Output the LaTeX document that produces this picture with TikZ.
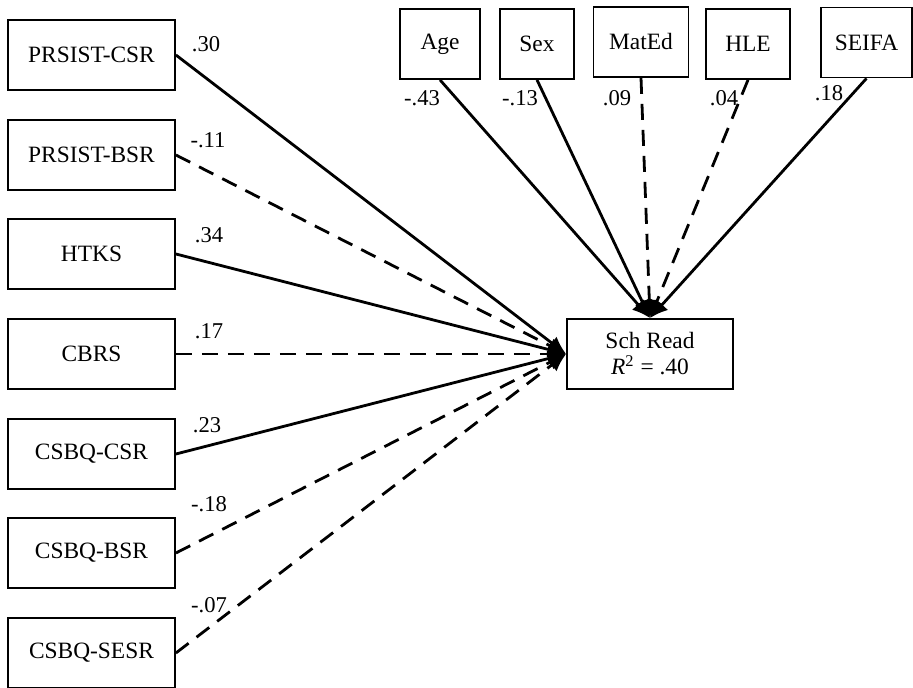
\documentclass[tikz,border=0pt]{standalone}
\usepackage{fontspec}
\setmainfont{Liberation Serif}
\usetikzlibrary{arrows.meta}

\begin{document}
\begin{tikzpicture}[x=0.5pt, y=-0.5pt, >={Latex[length=9pt,width=8pt]},
    var/.style={draw, line width=0.9pt, minimum width=83.5pt, minimum height=35pt, inner sep=0pt, font=\fontsize{11.7}{13}\selectfont},
    effect/.style={->, line width=1.4pt},
    weak/.style={effect, dash pattern=on 8pt off 5pt},
    coef/.style={inner sep=0pt, font=\fontsize{11.3}{13}\selectfont}]
    \useasboundingbox (0,0) rectangle (913,688);

    % self-regulation predictors
    \node[var] (pcsr) at (91.5,55) {PRSIST-CSR};
    \node[var] (pbsr) at (91.5,155) {PRSIST-BSR};
    \node[var] (htks) at (91.5,254) {HTKS};
    \node[var] (cbrs) at (91.5,354) {CBRS};
    \node[var] (ccsr) at (91.5,454) {CSBQ-CSR};
    \node[var] (cbsr) at (91.5,553) {CSBQ-BSR};
    \node[var] (csesr) at (91.5,653) {CSBQ-SESR};

    % covariates
    \node[var, minimum width=40pt] (age) at (440,44) {Age};
    \node[var, minimum width=37pt] (sex) at (537,44) {Sex};
    \node[var, minimum width=47.5pt] (mated) at (641,42) {MatEd};
    \node[var, minimum width=42pt] (hle) at (748,44) {HLE};
    \node[var, minimum width=45.5pt] (seifa) at (866.5,42.5) {SEIFA};

    % outcome
    \node[var, align=center, minimum width=83pt] (read) at (650,354) {Sch Read\\\textit{R}\textsuperscript{2} = .40};

    % paths
    \draw[effect] (pcsr.east) -- (read.west);
    \draw[weak] (pbsr.east) -- (read.west);
    \draw[effect] (htks.east) -- (read.west);
    \draw[weak] (cbrs.east) -- (read.west);
    \draw[effect] (ccsr.east) -- (read.west);
    \draw[weak] (cbsr.east) -- (read.west);
    \draw[weak] (csesr.east) -- (read.west);

    \draw[effect] (age.south) -- (read.north);
    \draw[effect] (sex.south) -- (read.north);
    \draw[weak] (mated.south) -- (read.north);
    \draw[weak] (hle.south) -- (read.north);
    \draw[effect] (seifa.south) -- (read.north);

    % coefficients
    \node[coef] (b1) at (206,44) {.30};
    \node[coef] (b2) at (208,140) {-.11};
    \node[coef] (b3) at (209,235) {.34};
    \node[coef] (b4) at (209,331) {.17};
    \node[coef] (b5) at (207,425) {.23};
    \node[coef] (b6) at (209,504) {-.18};
    \node[coef] (b7) at (209,605) {-.07};

    \node[coef] (g1) at (422,98) {-.43};
    \node[coef] (g2) at (520,98) {-.13};
    \node[coef] (g3) at (617,98) {.09};
    \node[coef] (g4) at (724,98) {.04};
    \node[coef] (g5) at (829,93) {.18};
\end{tikzpicture}
\end{document}
